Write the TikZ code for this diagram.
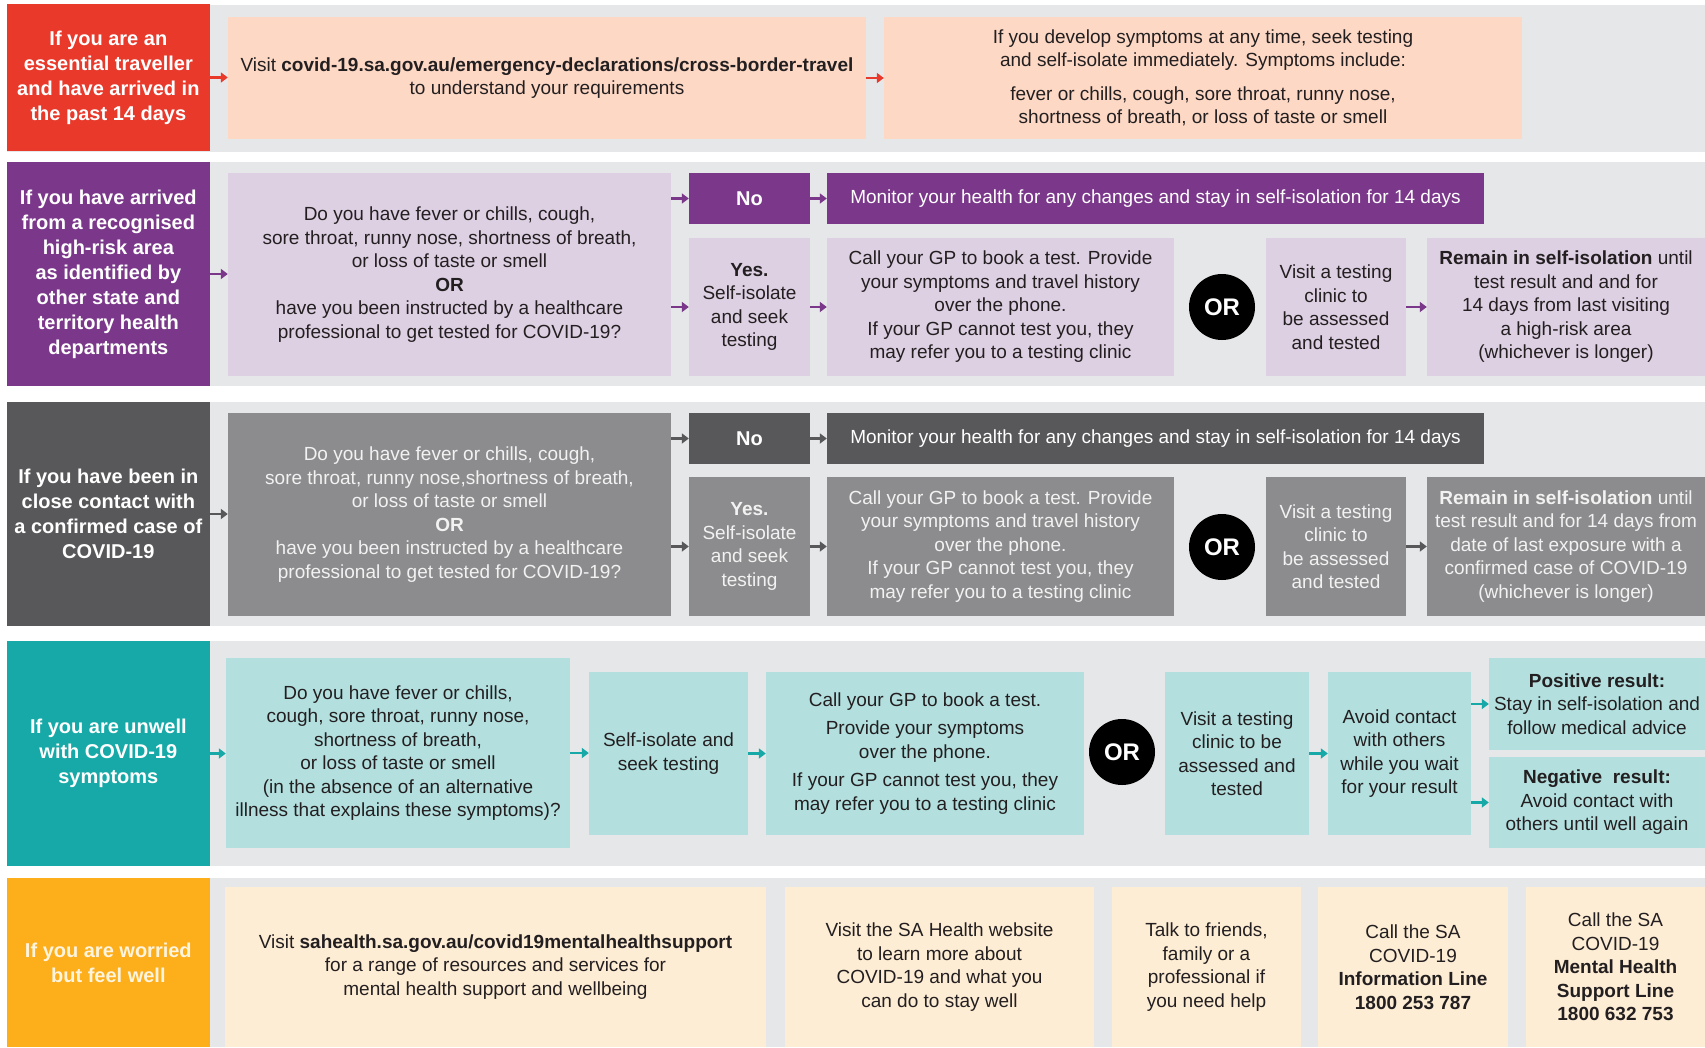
\documentclass[tikz,border=0pt]{standalone}
\usepackage{fontspec}
\setmainfont{Liberation Sans}
\usetikzlibrary{arrows.meta}
\definecolor{bandgray}{RGB}{230,231,232}
\definecolor{redC}{RGB}{232,57,43}
\definecolor{peach}{RGB}{253,216,197}
\definecolor{purpleD}{RGB}{123,56,139}
\definecolor{purpleL}{RGB}{221,208,227}
\definecolor{grayD}{RGB}{88,88,90}
\definecolor{grayM}{RGB}{140,140,142}
\definecolor{tealD}{RGB}{23,169,167}
\definecolor{tealL}{RGB}{179,224,223}
\definecolor{orangeC}{RGB}{252,174,27}
\definecolor{cream}{RGB}{254,237,213}
\definecolor{tdark}{RGB}{35,31,32}
\definecolor{tlight}{RGB}{242,242,242}
\definecolor{tcream}{RGB}{255,244,222}
\newcommand\bodyf{\fontsize{19}{23.5}\selectfont}
\newcommand\labf{\fontsize{20}{25}\selectfont\bfseries}
\newcommand\orf{\fontsize{24}{24}\selectfont\bfseries}
\newcommand\bx[7]{\node[#2, minimum width={(#5-#3)*1pt}, minimum height={(#6-#4)*1pt}] (#1) at ({(#3+#5)/2},{(#4+#6)/2}) {#7};}
\tikzset{
  base/.style={rectangle, inner sep=0pt, align=center, font=\bodyf},
  lab/.style={base, font=\labf, text=white},
  dk/.style={base, text=tdark},
  lt/.style={base, text=tlight},
  arr/.style={-{Triangle[length=7pt,width=10pt]}, line width=2.2pt},
  orc/.style={circle, fill=black, text=white, minimum size=66pt, inner sep=0pt, font=\orf},
}
\begin{document}
\begin{tikzpicture}[x=1pt,y=-1pt]
\useasboundingbox[fill=white] (0,0) rectangle (1705,1047);
% ---------------- Row 1
\fill[bandgray] (6.7,5) rectangle (1705,152);
\bx{lab1}{lab, fill=redC}{6.7}{4}{210}{151}{If you are an\\essential traveller\\and have arrived in\\the past 14 days}
\bx{a1}{dk, fill=peach}{228}{17}{866}{139}{Visit \textbf{covid-19.sa.gov.au/emergency-declarations/cross-border-travel}\\to understand your requirements}
\bx{a2}{dk, fill=peach}{884}{17}{1522}{139}{If you develop symptoms at any time, seek testing\\and self-isolate immediately. Symptoms include:\\[10pt]fever or chills, cough, sore throat, runny nose,\\shortness of breath, or loss of taste or smell}
\draw[arr, redC] (lab1.east) -- (lab1.east -| a1.west);
\draw[arr, redC] (a1.east) -- (a1.east -| a2.west);
% ---------------- Row 2
\fill[bandgray] (6.7,162) rectangle (1705,386);
\bx{lab2}{lab, fill=purpleD}{6.7}{162}{210}{386}{If you have arrived\\from a recognised\\high-risk area\\as identified by\\other state and\\territory health\\departments}
\bx{q2}{dk, fill=purpleL}{228}{173}{671}{376}{Do you have fever or chills, cough,\\sore throat, runny nose, shortness of breath,\\or loss of taste or smell\\\textbf{OR}\\have you been instructed by a healthcare\\professional to get tested for COVID-19?}
\bx{no2}{lab, fill=purpleD}{689}{173}{810}{224}{No}
\bx{yes2}{dk, fill=purpleL}{689}{238}{810}{376}{\textbf{Yes.}\\Self-isolate\\and seek\\testing}
\bx{mon2}{base, text=white, fill=purpleD}{827}{173}{1484}{224}{Monitor your health for any changes and stay in self-isolation for 14 days}
\bx{call2}{dk, fill=purpleL}{827}{238}{1174}{376}{Call your GP to book a test. Provide\\your symptoms and travel history\\over the phone.\\If your GP cannot test you, they\\may refer you to a testing clinic}
\node[orc] (or2) at (1222,307) {OR};
\bx{visit2}{dk, fill=purpleL}{1266}{238}{1406}{376}{Visit a testing\\clinic to\\be assessed\\and tested}
\bx{rem2}{dk, fill=purpleL}{1427}{238}{1705}{376}{\textbf{Remain in self-isolation} until\\test result and and for\\14 days from last visiting\\a high-risk area\\(whichever is longer)}
\draw[arr, purpleD] (lab2.east) -- (lab2.east -| q2.west);
\draw[arr, purpleD] (q2.east |- no2.west) -- (no2.west);
\draw[arr, purpleD] (q2.east |- yes2.west) -- (yes2.west);
\draw[arr, purpleD] (no2.east) -- (mon2.west);
\draw[arr, purpleD] (yes2.east) -- (yes2.east -| call2.west);
\draw[arr, purpleD] (visit2.east) -- (visit2.east -| rem2.west);
% ---------------- Row 3
\fill[bandgray] (6.7,402) rectangle (1705,626);
\bx{lab3}{lab, fill=grayD}{6.7}{402}{210}{626}{If you have been in\\close contact with\\a confirmed case of\\COVID-19}
\bx{q3}{lt, fill=grayM}{228}{413}{671}{616}{Do you have fever or chills, cough,\\sore throat, runny nose,shortness of breath,\\or loss of taste or smell\\\textbf{OR}\\have you been instructed by a healthcare\\professional to get tested for COVID-19?}
\bx{no3}{lab, fill=grayD}{689}{413}{810}{464}{No}
\bx{yes3}{lt, fill=grayM}{689}{477}{810}{616}{\textbf{Yes.}\\Self-isolate\\and seek\\testing}
\bx{mon3}{base, text=white, fill=grayD}{827}{413}{1484}{464}{Monitor your health for any changes and stay in self-isolation for 14 days}
\bx{call3}{lt, fill=grayM}{827}{477}{1174}{616}{Call your GP to book a test. Provide\\your symptoms and travel history\\over the phone.\\If your GP cannot test you, they\\may refer you to a testing clinic}
\node[orc] (or3) at (1222,547) {OR};
\bx{visit3}{lt, fill=grayM}{1266}{477}{1406}{616}{Visit a testing\\clinic to\\be assessed\\and tested}
\bx{rem3}{lt, fill=grayM}{1427}{477}{1705}{616}{\textbf{Remain in self-isolation} until\\test result and for 14 days from\\date of last exposure with a\\confirmed case of COVID-19\\(whichever is longer)}
\draw[arr, grayD] (lab3.east) -- (lab3.east -| q3.west);
\draw[arr, grayD] (q3.east |- no3.west) -- (no3.west);
\draw[arr, grayD] (q3.east |- yes3.west) -- (yes3.west);
\draw[arr, grayD] (no3.east) -- (mon3.west);
\draw[arr, grayD] (yes3.east) -- (yes3.east -| call3.west);
\draw[arr, grayD] (visit3.east) -- (visit3.east -| rem3.west);
% ---------------- Row 4
\fill[bandgray] (6.7,641) rectangle (1705,866);
\bx{lab4}{lab, fill=tealD}{6.7}{641}{210}{866}{If you are unwell\\with COVID-19\\symptoms}
\bx{q4}{dk, fill=tealL}{226}{658}{570}{848}{Do you have fever or chills,\\cough, sore throat, runny nose,\\shortness of breath,\\or loss of taste or smell\\(in the absence of an alternative\\illness that explains these symptoms)?}
\bx{self4}{dk, fill=tealL}{589}{672}{748}{835}{Self-isolate and\\seek testing}
\bx{call4}{dk, fill=tealL}{766}{672}{1084}{835}{Call your GP to book a test.\\[5pt]Provide your symptoms\\over the phone.\\[5pt]If your GP cannot test you, they\\may refer you to a testing clinic}
\node[orc] (or4) at (1122,752) {OR};
\bx{visit4}{dk, fill=tealL}{1165}{672}{1309}{835}{Visit a testing\\clinic to be\\assessed and\\tested}
\bx{avoid4}{dk, fill=tealL}{1328}{672}{1471}{835}{Avoid contact\\with others\\while you wait\\for your result}
\bx{pos4}{dk, fill=tealL}{1489}{658}{1705}{750}{\textbf{Positive result:}\\Stay in self-isolation and\\follow medical advice}
\bx{neg4}{dk, fill=tealL}{1489}{757}{1705}{848}{\textbf{Negative\ \ result:}\\Avoid contact with\\others until well again}
\draw[arr, tealD] (lab4.east) -- (lab4.east -| q4.west);
\draw[arr, tealD] (q4.east) -- (q4.east -| self4.west);
\draw[arr, tealD] (self4.east) -- (self4.east -| call4.west);
\draw[arr, tealD] (visit4.east) -- (visit4.east -| avoid4.west);
\draw[arr, tealD] (avoid4.east |- pos4.west) -- (pos4.west);
\draw[arr, tealD] (avoid4.east |- neg4.west) -- (neg4.west);
% ---------------- Row 5
\fill[bandgray] (6.7,878) rectangle (1705,1047);
\bx{lab5}{lab, text=tcream, fill=orangeC}{6.7}{878}{210}{1047}{If you are worried\\but feel well}
\bx{b1}{dk, fill=cream}{225}{887}{766}{1047}{Visit \textbf{sahealth.sa.gov.au/covid19mentalhealthsupport}\\for a range of resources and services for\\mental health support and wellbeing}
\bx{b2}{dk, fill=cream}{785}{887}{1094}{1047}{Visit the SA Health website\\to learn more about\\COVID-19 and what you\\can do to stay well}
\bx{b3}{dk, fill=cream}{1112}{887}{1301}{1047}{Talk to friends,\\family or a\\professional if\\you need help}
\bx{b4}{dk, fill=cream}{1318}{887}{1508}{1047}{Call the SA\\COVID-19\\\textbf{Information Line}\\\textbf{1800 253 787}}
\bx{b5}{dk, fill=cream}{1526}{887}{1705}{1047}{Call the SA\\COVID-19\\\textbf{Mental Health}\\\textbf{Support Line}\\\textbf{1800 632 753}}
\end{tikzpicture}
\end{document}
